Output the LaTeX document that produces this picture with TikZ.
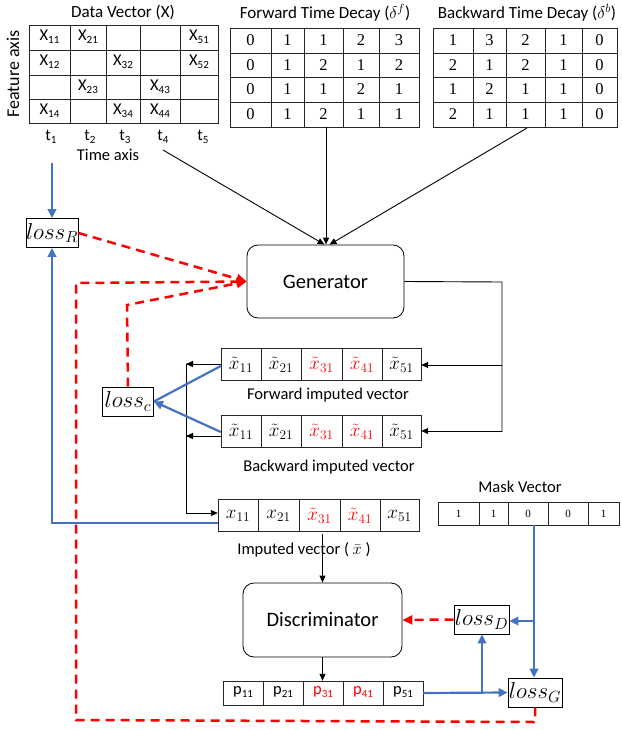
\RequirePackage{fix-cm}
\documentclass[tikz,border=0pt]{standalone}
\usepackage{fontspec}
\setmainfont{Carlito}
\newfontfamily\serifdig{Liberation Serif}
\usetikzlibrary{arrows.meta,calc}
\definecolor{lblue}{RGB}{68,114,196}
\newcommand\Sb[1]{\raisebox{-0.4ex}{\fontsize{11}{11}\selectfont #1}}
\begin{document}
\begin{tikzpicture}[x=1pt,y=-1pt,
  gridline/.style={line width=0.8pt, draw=black!85},
  sans/.style={font=\fontsize{16.5}{18}\selectfont, inner sep=0},
  title/.style={font=\fontsize{17}{19}\selectfont, inner sep=0},
  digit/.style={font=\serifdig\fontsize{16.5}{18}\selectfont, inner sep=0},
  smalldigit/.style={font=\serifdig\fontsize{11}{12}\selectfont, inner sep=0},
  vtxt/.style={font=\fontsize{19}{20}\selectfont, inner sep=0},
  frame/.style={inner sep=0, minimum width=#1},
  lossbox/.style={draw, line width=0.8pt, fill=white, inner sep=0, font=\fontsize{23}{24}\selectfont, minimum height=29},
  block/.style={draw, rounded corners=11pt, line width=0.8pt, font=\fontsize{20.5}{22}\selectfont, minimum width=157, minimum height=73},
  blk/.style={-{Triangle[length=7pt,width=6pt]}, line width=0.9pt},
  bluline/.style={lblue, line width=2.2pt},
  blu/.style={bluline, -{Triangle[length=9pt,width=8.5pt]}},
  reddash/.style={red, line width=2.5pt, dash pattern=on 9pt off 6pt},
  redarr/.style={reddash, -{Triangle[length=10pt,width=9pt]}}
]
\useasboundingbox (0,0) rectangle (621,730);

% ---------- Data vector ----------
\foreach \r in {0,...,3}{
  \foreach \c in {0,...,4}{
    \pgfmathsetmacro\xa{{29,70,106,140,180,218}[\c]}
    \pgfmathsetmacro\xb{{29,70,106,140,180,218}[\c+1]}
    \pgfmathsetmacro\ya{{25,50,75,99,123}[\r]}
    \pgfmathsetmacro\yb{{25,50,75,99,123}[\r+1]}
    \draw[gridline] (\xa,\ya) rectangle (\xb,\yb);
  }
}
\node[title] (dvt) at (123,12) {Data Vector (X)};
\node[sans, rotate=90, font=\fontsize{18}{19}\selectfont] (fa) at (13,74) {Feature axis};
\node[sans] (x11) at (49.5,37) {X\Sb{11}};
\node[sans] (x21) at (88,37) {X\Sb{21}};
\node[sans] (x51) at (199,37) {X\Sb{51}};
\node[sans] (x12) at (49.5,62) {X\Sb{12}};
\node[sans] (x32) at (123,62) {X\Sb{32}};
\node[sans] (x52) at (199,62) {X\Sb{52}};
\node[sans] (x23) at (88,87) {X\Sb{23}};
\node[sans] (x43) at (160,87) {X\Sb{43}};
\node[sans] (x14) at (49.5,111) {X\Sb{14}};
\node[sans] (x34) at (123,111) {X\Sb{34}};
\node[sans] (x44) at (160,111) {X\Sb{44}};
\node[sans] (t1) at (51,137) {t\Sb{1}};
\node[sans] (t2) at (90,137) {t\Sb{2}};
\node[sans] (t3) at (125,137) {t\Sb{3}};
\node[sans] (t4) at (163,137) {t\Sb{4}};
\node[sans] (t5) at (203,137) {t\Sb{5}};
\node[sans] (ta) at (108,155) {Time axis};

% ---------- Forward time decay ----------
\node[title] (fdt) at (325,13) {Forward Time Decay ($\delta^f$)};
\foreach \row [count=\r from 0] in {{0,1,1,2,3},{0,1,2,1,2},{0,1,1,2,1},{0,1,2,1,1}}{
  \foreach \v [count=\c from 0] in \row {
    \pgfmathsetmacro\xa{{230,271,304,343,379,419}[\c]}
    \pgfmathsetmacro\xb{{230,271,304,343,379,419}[\c+1]}
    \pgfmathsetmacro\ya{{28,53,77,102,127}[\r]}
    \pgfmathsetmacro\yb{{28,53,77,102,127}[\r+1]}
    \draw[gridline] (\xa,\ya) rectangle (\xb,\yb);
    \node[digit] (fd-\r-\c) at ({(\xa+\xb)/2},{(\ya+\yb)/2}) {\v};
  }
}
\coordinate (fdbot) at (326,127);

% ---------- Backward time decay ----------
\node[title] (bdt) at (527,13) {Backward Time Decay ($\delta^b$)};
\foreach \row [count=\r from 0] in {{1,3,2,1,0},{2,1,2,1,0},{1,2,1,1,0},{2,1,1,1,0}}{
  \foreach \v [count=\c from 0] in \row {
    \pgfmathsetmacro\xa{{433,473,506,545,582,617}[\c]}
    \pgfmathsetmacro\xb{{433,473,506,545,582,617}[\c+1]}
    \pgfmathsetmacro\ya{{28,53,77,102,127}[\r]}
    \pgfmathsetmacro\yb{{28,53,77,102,127}[\r+1]}
    \draw[gridline] (\xa,\ya) rectangle (\xb,\yb);
    \node[digit] (bd-\r-\c) at ({(\xa+\xb)/2},{(\ya+\yb)/2}) {\v};
  }
}
\coordinate (bdbot) at (527,128);
\coordinate (dvout) at (163,150);

% ---------- Generator ----------
\node[block] (gen) at (325.5,281.5) {Generator};

% ---------- Forward imputed vector ----------
\node[frame=200, minimum height=32] (fwd) at (321,364) {};
\foreach \xa/\xb/\t in {221/261/{$\tilde{x}_{11}$},261/301/{$\tilde{x}_{21}$},301/342/{\color{red}$\tilde{x}_{31}$},342/382/{\color{red}$\tilde{x}_{41}$},382/421/{$\tilde{x}_{51}$}}{
  \draw[gridline] (\xa,348) rectangle (\xb,380);
  \node[vtxt] at ({(\xa+\xb)/2},365) {\t};
}
\node[sans] (fwdl) at (328,395) {Forward imputed vector};

% ---------- Backward imputed vector ----------
\node[frame=200, minimum height=32] (bwd) at (321,431) {};
\foreach \xa/\xb/\t in {221/261/{$\tilde{x}_{11}$},261/301/{$\tilde{x}_{21}$},301/342/{\color{red}$\tilde{x}_{31}$},342/382/{\color{red}$\tilde{x}_{41}$},382/421/{$\tilde{x}_{51}$}}{
  \draw[gridline] (\xa,415) rectangle (\xb,447);
  \node[vtxt] at ({(\xa+\xb)/2},432) {\t};
}
\node[sans] (bwdl) at (329,467) {Backward imputed vector};

% ---------- Imputed vector ----------
\node[frame=201, minimum height=32] (imp) at (318.5,515) {};
\foreach \xa/\xb/\t in {218/258/{$x_{11}$},258/299/{$x_{21}$},299/340/{\color{red}$\tilde{x}_{31}$},340/380/{\color{red}$\tilde{x}_{41}$},380/419/{$x_{51}$}}{
  \draw[gridline] (\xa,499) rectangle (\xb,531);
  \node[vtxt] at ({(\xa+\xb)/2},516) {\t};
}
\node[sans] (impl) at (304,550) {Imputed vector ( $\bar{x}$ )};

% ---------- Mask vector ----------
\node[sans] (maskl) at (520,487) {Mask Vector};
\node[frame=181, minimum height=23] (mask) at (528.5,513.5) {};
\foreach \xa/\xb/\t in {438/479/1,479/508/1,508/548/0,548/588/0,588/619/1}{
  \draw[gridline] (\xa,502) rectangle (\xb,525);
  \node[smalldigit] at ({(\xa+\xb)/2},513.5) {\t};
}
\coordinate (maskout) at (534,525);

% ---------- Discriminator ----------
\node[block, minimum width=159, minimum height=74] (disc) at (322.5,620) {Discriminator};

% ---------- p vector ----------
\node[frame=200, minimum height=24] (pv) at (323,693) {};
\foreach \xa/\xb/\t in {223/263/{p\Sb{11}},263/303/{p\Sb{21}},303/343/{\color{red}p\Sb{31}},343/383/{\color{red}p\Sb{41}},383/423/{p\Sb{51}}}{
  \draw[gridline] (\xa,681) rectangle (\xb,705);
  \node[sans] at ({(\xa+\xb)/2},692) {\t};
}

% ---------- Loss boxes ----------
\node[lossbox, minimum width=52] (lossR) at (52,233) {$loss_R$};
\node[lossbox, minimum width=51] (lossc) at (128,401.5) {$loss_c$};
\node[lossbox, minimum width=55] (lossD) at (481.5,619.5) {$loss_D$};
\node[lossbox, minimum width=54] (lossG) at (535,692.5) {$loss_G$};

% ---------- Black connectors ----------
\draw[blk] (dvout) -- ($(gen.north)+(-1,0)$);
\draw[blk] (fdbot) -- (fdbot |- gen.north);
\draw[blk] (bdbot) -- ($(gen.north)+(4,0)$);
\coordinate (gr) at (502,282);
\draw[line width=0.9pt] (gen.east) -- (gr) -- (502,432);
\draw[blk] (502,365) -- (fwd.east |- 0,365);
\draw[blk] (502,431) -- (bwd.east);
\coordinate (vj) at (186,364);
\draw[blk] (fwd.west) -- (vj);
\draw[blk] (bwd.west |- 0,436) -- (186,436);
\draw[line width=0.9pt] (vj) -- (186,513);
\draw[blk] (186,513) -- (imp.west |- 0,513);
\draw[blk] (disc.north |- 0,534) -- (disc.north);
\draw[blk] (disc.south) -- (disc.south |- pv.north);

% ---------- Blue connectors ----------
\draw[blu] (52,163) -- (lossR.north);
\draw[blu] (imp.west |- 0,523) -- (52,523) -- (lossR.south);
\draw[bluline] (fwd.west |- 0,366) -- (lossc.east);
\draw[blu] (bwd.west |- 0,432) -- (lossc.east);
\draw[blu] (pv.east) -- (lossG.west);
\draw[blu] (482,692.5) -- (lossD.south -| 482,0);
\draw[blu] (maskout) -- (lossG.north -| maskout);
\draw[blu] (534,621) -- (lossD.east |- 0,621);

% ---------- Red dashed connectors ----------
\draw[redarr] (lossR.east) -- (gen.west);
\draw[redarr] (lossc.north) -- (127,305) -- (gen.west);
\draw[redarr] (lossG.south) -- (535,722) -- (76,720) -- (76,283) -- (gen.west);
\draw[redarr] (lossD.west) -- (disc.east);
\end{tikzpicture}
\end{document}
